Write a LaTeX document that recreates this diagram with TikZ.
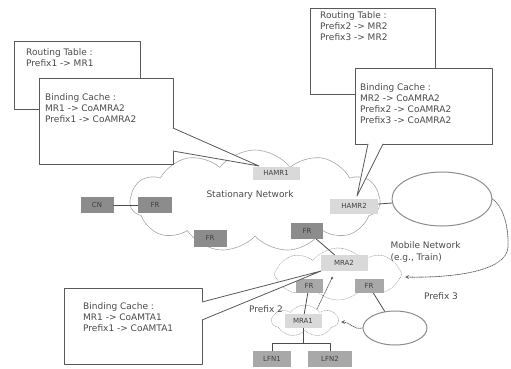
\documentclass[tikz,border=0pt]{standalone}
\usepackage{fontspec}
\setmainfont{DejaVu Sans}
\usetikzlibrary{shapes.geometric,shapes.symbols,arrows}
\definecolor{homegray}{HTML}{D9D9D9}
\definecolor{routergray}{HTML}{8C8C8C}
\definecolor{hostgray}{HTML}{A8A8A8}
\definecolor{inkgray}{HTML}{4A4A4A}
\tikzset{
  netnode/.style={inner sep=0pt, text=black!75, font=\fontsize{7}{8}\selectfont},
  homenode/.style={netnode, fill=homegray},
  routernode/.style={netnode, fill=routergray},
  hostnode/.style={netnode, fill=hostgray},
  link/.style={draw=black!70, line width=.8pt},
  move/.style={draw=black!60, densely dotted, line width=.8pt},
  callbox/.style={draw=black!65, fill=white, line width=.8pt},
  boxtext/.style={anchor=north west, inner sep=0pt, align=left, text=inkgray},
  cell/.style={ellipse, draw=black!45, line width=1pt, inner sep=0pt},
  netcloud/.style={cloud, cloud ignores aspect, draw=black!35, line width=.6pt}
}
\begin{document}
\begin{tikzpicture}[x=1pt, y=-1pt, line join=round, line cap=round, >=stealth,
  font=\fontsize{9}{11.3}\selectfont]
  \useasboundingbox (0,0) rectangle (511,368);
  % clouds
  \node[netcloud, cloud puffs=11, cloud puff arc=105,
    minimum width=250, minimum height=102] (statnet) at (255,201) {};
  \node[netcloud, cloud puffs=8, cloud puff arc=105, densely dotted,
    minimum width=127, minimum height=52] (mobnet) at (338,274) {};
  \node[netcloud, cloud puffs=7, cloud puff arc=105, densely dotted,
    minimum width=66, minimum height=32] (subnet) at (305,321) {};
  \node[text=inkgray] (statlabel) at (250,195) {Stationary Network};
  \node[text=inkgray, align=left, anchor=west] (moblabel) at (387,252) {Mobile Network\\(e.g., Train)};
  \node[text=inkgray] (pfx2) at (266,309) {Prefix 2};
  \node[text=inkgray] (pfx3) at (441,296) {Prefix 3};
  % cells
  \node[cell, minimum width=100, minimum height=54] (bigcell) at (442,199) {};
  \node[cell, minimum width=64, minimum height=34] (smallcell) at (395,328) {};
  % nodes
  \node[homenode, minimum width=47, minimum height=13] (hamr1) at (276,173) {HAMR1};
  \node[homenode, minimum width=48, minimum height=15] (hamr2) at (354,206) {HAMR2};
  \node[routernode, minimum width=33, minimum height=16] (cn) at (97,205) {CN};
  \node[routernode, minimum width=34, minimum height=16] (fr1) at (155,205) {FR};
  \node[routernode, minimum width=33, minimum height=17] (fr2) at (210,238) {FR};
  \node[routernode, minimum width=32, minimum height=16] (fr3) at (307,231) {FR};
  \node[homenode, minimum width=47, minimum height=16] (mra2) at (344,263) {MRA2};
  \node[hostnode, minimum width=27, minimum height=14] (frm1) at (309,286) {FR};
  \node[hostnode, minimum width=29, minimum height=14] (frm2) at (369,286) {FR};
  \node[homenode, minimum width=37, minimum height=14] (mra1) at (303,321) {MRA1};
  \node[hostnode, minimum width=38, minimum height=16] (lfn1) at (272,359) {LFN1};
  \node[hostnode, minimum width=44, minimum height=16] (lfn2) at (330,359) {LFN2};
  % links
  \draw[link] (cn) -- (fr1);
  \draw[link] (fr3) -- (mra2);
  \draw[link] (frm1) -- (mra1);
  \draw[link] (frm2) -- (smallcell);
  \draw[link] (hamr2) -- (bigcell);
  \draw[link] (mra1.south) -- +(0,15) coordinate (split);
  \draw[link] (lfn1.north) |- (split) -| (lfn2.north);
  % movement
  \path
  (405,277) coordinate (mobtip)
  (341,322) coordinate (subtip)
  (317,309) coordinate (up1)
  (332,278) coordinate (up2)
  ;
  \draw[move, ->] (bigcell.east) .. controls (502,205) and (509,225) .. (508,247)
    .. controls (507,272) and (450,278) .. (mobtip);
  \draw[move, ->] (smallcell.west) .. controls (353,330) and (350,322) .. (subtip);
  \draw[move] (up1) -- (up2);
  \fill[black!60] (up2) circle (1.3);
  % callouts
  \path
  (259,166) coordinate (tip1)
  (357,196) coordinate (tip2)
  (321,271) coordinate (tip3)
  ;
  \draw[callbox] (14,41) rectangle (140,109);
  \node[boxtext] (rt1) at (26,48) {Routing Table :\\Prefix1 -> MR1};
  \draw[callbox] (39,78) rectangle (173,164);
  \fill[white] (172,128) -- (tip1) -- (172,151) -- cycle;
  \draw[callbox] (173,128) -- (tip1) -- (173,151);
  \node[boxtext] (bc1) at (45,93) {Binding Cache :\\MR1 -> CoAMRA2\\Prefix1 -> CoAMRA2};
  \draw[callbox] (310,8) rectangle (435,94);
  \node[boxtext] (rt2) at (320,11) {Routing Table :\\Prefix2 -> MR2\\Prefix3 -> MR2};
  \draw[callbox] (355,68) rectangle (492,144);
  \fill[white] (368,143) -- (tip2) -- (383,143) -- cycle;
  \draw[callbox] (368,144) -- (tip2) -- (383,144);
  \node[boxtext] (bc2) at (360,83) {Binding Cache :\\MR2 -> CoAMRA2\\Prefix2 -> CoAMRA2\\Prefix3 -> CoAMRA2};
  \draw[callbox] (64,288) rectangle (202,364);
  \fill[white] (201,302) -- (tip3) -- (201,320) -- cycle;
  \draw[callbox] (202,302) -- (tip3) -- (202,320);
  \node[boxtext] (bc3) at (83,302) {Binding Cache :\\MR1 -> CoAMTA1\\Prefix1 -> CoAMTA1};
\end{tikzpicture}
\end{document}
